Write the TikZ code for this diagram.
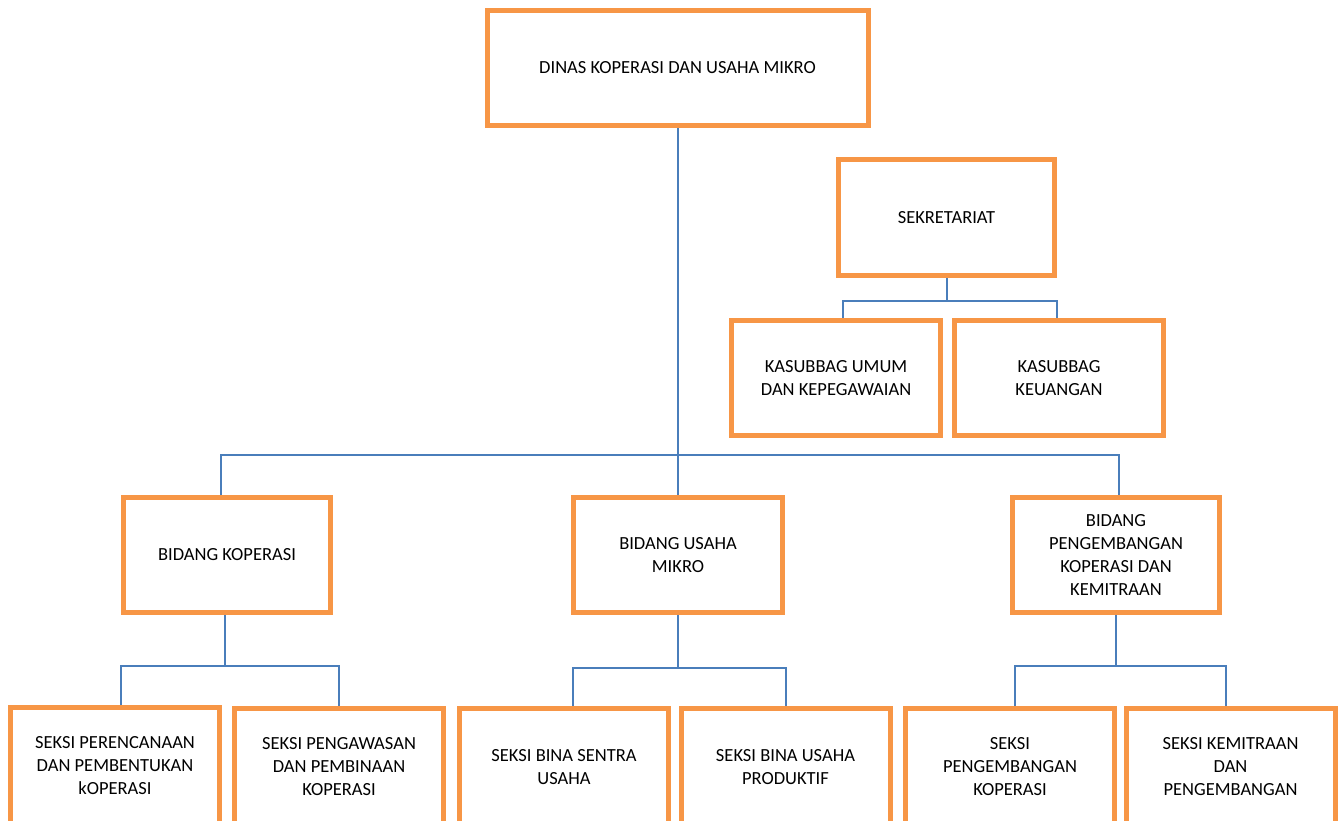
\documentclass[tikz,border=0pt]{standalone}
\usepackage{fontspec}
\setmainfont{Carlito}
\definecolor{oranye}{HTML}{F79646}
\definecolor{biru}{HTML}{4A7EBB}
\tikzset{
  kotak/.style={draw=oranye,line width=5pt,fill=white,align=center,
    minimum width=209pt,minimum height=115pt,inner sep=2pt,
    font=\fontsize{18.5}{23}\selectfont},
  garis/.style={biru,line width=2pt},
}
\begin{document}
\begin{tikzpicture}[x=1pt,y=-1pt]
        \clip (0,0) rectangle (1343,820);

        \node[kotak,minimum width=381pt](dinas)at(677.5,68){DINAS KOPERASI DAN USAHA MIKRO};
        \node[kotak,minimum width=216pt,minimum height=116pt](sekre)at(946.5,217.5){SEKRETARIAT};
        \node[kotak](umum)at(836,378){KASUBBAG UMUM\\DAN KEPEGAWAIAN};
        \node[kotak](keu)at(1059,378){KASUBBAG\\KEUANGAN};

        % bidang
        \node[kotak,minimum width=207pt](bkop)at(227,555){BIDANG KOPERASI};
        \node[kotak,minimum width=209pt](bum)at(678,555){BIDANG USAHA\\MIKRO};
        \node[kotak,minimum width=207pt](bpk)at(1116,555){BIDANG\\PENGEMBANGAN\\KOPERASI DAN\\KEMITRAAN};

        % seksi
        \node[kotak,minimum height=117pt](s1)at(115,766){SEKSI PERENCANAAN\\DAN PEMBENTUKAN\\kOPERASI};
        \node[kotak,minimum height=117pt](s2)at(339,767){SEKSI PENGAWASAN\\DAN PEMBINAAN\\KOPERASI};
        \node[kotak,minimum height=117pt](s3)at(564,767){SEKSI BINA SENTRA\\USAHA};
        \node[kotak,minimum height=117pt](s4)at(785.5,767){SEKSI BINA USAHA\\PRODUKTIF};
        \node[kotak,minimum height=117pt](s5)at(1010,767){SEKSI\\PENGEMBANGAN\\KOPERASI};
        \node[kotak,minimum height=117pt](s6)at(1230.5,767){SEKSI KEMITRAAN\\DAN\\PENGEMBANGAN};

        \draw[garis](dinas.south)--(dinas.south|-bum.north);
        \draw[garis](dinas.south)--++(0,327)-|([xshift=-6pt]bkop.north);
        \draw[garis](dinas.south)--++(0,327)-|([xshift=3pt]bpk.north);

        \draw[garis](sekre.south)--++(0,23)-|([xshift=7pt]umum.north);
        \draw[garis](sekre.south)--++(0,23)-|([xshift=-2pt]keu.north);

        \draw[garis]([xshift=-2pt]bkop.south)--++(0,51)-|([xshift=6pt]s1.north);
        \draw[garis]([xshift=-2pt]bkop.south)--++(0,51)-|(s2.north);
        \draw[garis](bum.south)--++(0,53)-|([xshift=9pt]s3.north);
        \draw[garis](bum.south)--++(0,53)-|(s4.north);
        \draw[garis](bpk.south)--++(0,51)-|([xshift=5pt]s5.north);
        \draw[garis](bpk.south)--++(0,51)-|([xshift=-5pt]s6.north);
    \end{tikzpicture}
\end{document}
